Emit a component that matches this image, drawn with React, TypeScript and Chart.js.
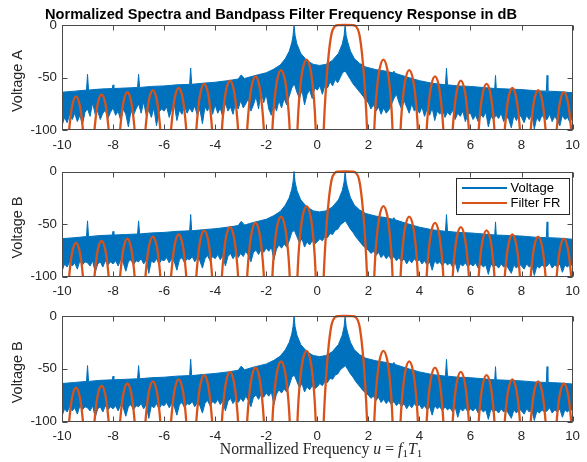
import React, { useEffect, useRef } from 'react';
import { Chart, registerables } from 'chart.js';

Chart.register(...registerables);

// ---------------- data ----------------
const xTickValues = [-10, -8, -6, -4, -2, 0, 2, 4, 6, 8, 10];
const yTickValues = [-100, -50, 0];
const seriesNames = ['Voltage', 'Filter FR'];
const panelLabels = ['Voltage A', 'Voltage B', 'Voltage B'];

// upper edge of the voltage spectrum (dB)
const voltTopU = [-10, -9.5, -9.04, -9.0, -8.96, -8.5, -8.03, -8.0, -7.97, -7.5, -7.04, -7.0, -6.96, -6.5, -6.0, -5.5, -5.0, -4.96, -4.92, -4.5, -4.0, -3.5, -3.1, -2.98, -2.85, -2.5, -2.0, -1.7, -1.45, -1.25, -1.1, -1.0, -0.95, -0.91, -0.87, -0.8, -0.65, -0.4, -0.15, 0.09, 0.33, 0.58, 0.83, 0.98, 1.05, 1.09, 1.13, 1.2, 1.3, 1.45, 1.65, 1.9, 2.3, 2.7, 2.95, 3.0, 3.05, 3.5, 4.0, 4.5, 5.02, 5.06, 5.1, 5.5, 6.0, 6.5, 6.95, 6.98, 7.01, 7.5, 8.0, 8.5, 8.97, 9.0, 9.03, 9.5, 10];
const voltTopDb = [-64, -63, -62, -47, -62, -61, -60.5, -57, -60.5, -60, -59.5, -47, -59.5, -58.5, -58, -57, -56.5, -41, -56.5, -55.5, -54.5, -53, -51.5, -47.5, -51, -48.5, -45.5, -42, -38, -32, -25, -17, -10, 0, -10, -18, -27, -34, -37.5, -38.5, -37.5, -34, -27, -18, -10, 0, -10, -17, -25, -32, -36.5, -40, -42.5, -44, -45.5, -44, -46, -49.5, -53, -55.5, -57, -41, -57, -58, -58.5, -59.5, -60.5, -48, -60.5, -61, -61.5, -62.5, -63, -48, -63, -63.5, -64.5];

// lower edge of the voltage spectrum, every 0.1 from -10 to 10 (dB)
const voltLowA = [
  -96, -88, -93, -85, -90, -84, -92, -86, -95, -83,
  -80, -87, -74, -85, -82, -90, -84, -81, -89, -83,
  -79, -86, -82, -91, -80, -85, -97, -82, -86, -80,
  -75, -84, -73, -86, -81, -88, -79, -96, -83, -80,
  -82, -78, -88, -80, -76, -91, -81, -85, -77, -84,
  -79, -83, -77, -86, -80, -94, -78, -82, -75, -85,
  -76, -84, -79, -88, -74, -82, -78, -85, -73, -80,
  -72, -79, -75, -70, -82, -76, -68, -80, -62, -74,
  -66, -80, -86, -74, -82, -72, -79, -70, -76, -68,
  -60, -56, -64, -70, -62, -76, -66, -62, -70, -60,
  -62, -58, -66, -57, -60, -54, -58, -52, -55, -50,
  -45, -44, -48, -52, -56, -59, -62, -65, -68, -72,
  -74, -80, -76, -82, -78, -85, -79, -84, -81, -76,
  -70, -66, -74, -80, -72, -78, -84, -75, -82, -79,
  -84, -78, -87, -80, -86, -79, -91, -82, -85, -80,
  -88, -83, -86, -81, -90, -84, -87, -82, -92, -85,
  -84, -90, -86, -92, -85, -88, -83, -97, -87, -90,
  -86, -89, -84, -92, -87, -90, -98, -86, -91, -85,
  -88, -93, -86, -90, -84, -99, -88, -92, -86, -89,
  -90, -85, -92, -87, -91, -96, -86, -90, -88, -93,
  -87,
];
const voltLowB = [
  -95, -88, -91, -86, -90, -87, -93, -85, -89, -86,
  -87, -90, -85, -96, -88, -86, -91, -85, -89, -86,
  -88, -85, -90, -84, -87, -95, -86, -84, -89, -85,
  -86, -83, -88, -84, -97, -85, -87, -83, -88, -84,
  -85, -82, -87, -83, -86, -94, -84, -82, -87, -83,
  -84, -81, -86, -82, -85, -92, -83, -80, -85, -81,
  -83, -79, -84, -80, -90, -81, -78, -83, -79, -82,
  -78, -81, -76, -80, -86, -77, -75, -79, -74, -77,
  -73, -76, -72, -84, -74, -70, -73, -69, -72, -66,
  -58, -56, -62, -68, -64, -72, -67, -70, -66, -69,
  -67, -64, -66, -62, -63, -59, -60, -56, -55, -51,
  -49, -47, -51, -55, -58, -62, -65, -68, -71, -73,
  -75, -78, -76, -80, -77, -82, -79, -83, -80, -84,
  -81, -85, -82, -86, -83, -88, -84, -87, -83, -86,
  -84, -88, -85, -89, -86, -94, -85, -88, -86, -90,
  -86, -89, -87, -91, -86, -96, -88, -90, -87, -91,
  -88, -90, -87, -92, -88, -91, -89, -98, -88, -91,
  -89, -92, -88, -91, -89, -93, -97, -89, -92, -88,
  -90, -93, -88, -91, -89, -99, -90, -92, -89, -91,
  -90, -87, -92, -89, -91, -88, -96, -89, -91, -88,
  -90,
];
const voltLowU = voltLowA.map((_, i) => Math.round((-10 + i * 0.1) * 10) / 10);

// bandpass filter frequency response (dB)
const filterU = [
  -10.0, -9.95,
  -9.85, -9.77, -9.70, -9.60, -9.45, -9.30, -9.20, -9.13, -9.05, -8.95,
  -8.85, -8.77, -8.70, -8.60, -8.45, -8.30, -8.20, -8.13, -8.05, -7.945,
  -7.84, -7.76, -7.69, -7.59, -7.44, -7.29, -7.19, -7.12, -7.04, -6.94,
  -6.84, -6.76, -6.69, -6.59, -6.44, -6.29, -6.19, -6.12, -6.04, -5.935,
  -5.83, -5.75, -5.68, -5.58, -5.43, -5.28, -5.18, -5.11, -5.03, -4.93,
  -4.83, -4.75, -4.68, -4.58, -4.43, -4.28, -4.18, -4.11, -4.03, -3.925,
  -3.82, -3.74, -3.67, -3.57, -3.42, -3.27, -3.17, -3.10, -3.02, -2.92,
  -2.82, -2.74, -2.67, -2.57, -2.42, -2.27, -2.17, -2.10, -2.02, -1.92,
  -1.82, -1.74, -1.67, -1.57, -1.42, -1.27, -1.17, -1.10, -1.02, -0.92,
  -0.82, -0.74, -0.67, -0.57, -0.42, -0.27, -0.17, -0.10, -0.02, 0.08,
  0.18, 0.25, 0.34, 0.45, 0.56, 0.68, 0.8, 1.1, 1.4, 1.52, 1.64, 1.75, 1.86, 1.95, 2.01, 2.09,
  2.19, 2.27, 2.34, 2.44, 2.59, 2.74, 2.84, 2.91, 2.99, 3.095,
  3.20, 3.28, 3.35, 3.45, 3.60, 3.75, 3.85, 3.92, 4.00, 4.105,
  4.21, 4.29, 4.36, 4.46, 4.61, 4.76, 4.86, 4.93, 5.01, 5.115,
  5.22, 5.30, 5.37, 5.47, 5.62, 5.77, 5.87, 5.94, 6.02, 6.125,
  6.23, 6.31, 6.38, 6.48, 6.63, 6.78, 6.88, 6.95, 7.03, 7.135,
  7.24, 7.32, 7.39, 7.49, 7.64, 7.79, 7.89, 7.96, 8.04, 8.145,
  8.25, 8.33, 8.40, 8.50, 8.65, 8.80, 8.90, 8.97, 9.05, 9.155,
  9.26, 9.34, 9.41, 9.51, 9.66, 9.81, 9.91, 9.98, 10.06, 10.165,
];
const filterDb = [
  -190, -200,
  -160, -116, -95, -77, -68, -77, -95, -116, -160, -200,
  -158, -114, -93, -75, -66, -75, -93, -114, -158, -200,
  -156, -112, -91, -73, -64, -73, -91, -112, -156, -200,
  -154, -110, -89, -71, -62, -71, -89, -110, -154, -200,
  -152, -108, -87, -69, -60, -69, -87, -108, -152, -200,
  -148, -104, -83, -65, -56, -65, -83, -104, -148, -200,
  -145, -101, -80, -62, -53, -62, -80, -101, -145, -200,
  -141, -97, -76, -58, -49, -58, -76, -97, -141, -200,
  -135, -91, -70, -52, -43, -52, -70, -91, -135, -200,
  -125, -81, -60, -42, -33, -42, -60, -81, -125, -200,
  -150, -100, -59, -27, -8, -1.5, -0.2, 0, -0.2, -1.5, -8, -27, -59, -100, -150, -200,
  -125, -81, -60, -42, -33, -42, -60, -81, -125, -200,
  -135, -91, -70, -52, -43, -52, -70, -91, -135, -200,
  -141, -97, -76, -58, -49, -58, -76, -97, -141, -200,
  -145, -101, -80, -62, -53, -62, -80, -101, -145, -200,
  -148, -104, -83, -65, -56, -65, -83, -104, -148, -200,
  -152, -108, -87, -69, -60, -69, -87, -108, -152, -200,
  -154, -110, -89, -71, -62, -71, -89, -110, -154, -200,
  -156, -112, -91, -73, -64, -73, -91, -112, -156, -200,
];

// ---------------- styling ----------------
const BLUE = '#0072BD';
const ORANGE = '#D95319';
const AXIS = '#262626';
const SANS = '"Liberation Sans", Arial, Helvetica, sans-serif';
const SERIF = '"Liberation Serif", "Times New Roman", serif';
const W = 587;
const H = 462;
const X_AXIS_H = 24;
const PLOT_LEFT = 62;
const PLOT_RIGHT = 577.5;

const panelBoxes = [
  { top: 25, bottom: 130, lowIdx: 0, legend: false },
  { top: 171.5, bottom: 276.5, lowIdx: 1, legend: true },
  { top: 316, bottom: 421.5, lowIdx: 1, legend: false },
];

const toPts = (xs: number[], ys: number[]) => xs.map((x, i) => ({ x, y: ys[i] }));

function makeAxesPlugin(label: string, legend: boolean) {
  return {
    id: 'matlabAxes',
    afterDraw(chart: any) {
      const { ctx, chartArea: a, scales } = chart;
      ctx.save();
      const L = Math.round(a.left) + 0.5;
      const R = Math.round(a.right) - 0.5;
      const T = Math.round(a.top) + 0.5;
      const B = Math.round(a.bottom) - 0.5;
      ctx.strokeStyle = '#4a4a4a';
      ctx.lineWidth = 1;
      ctx.strokeRect(L, T, R - L, B - T);
      const tl = 5;
      ctx.beginPath();
      for (const t of scales.x.ticks) {
        const px = Math.round(scales.x.getPixelForValue(t.value)) + 0.5;
        ctx.moveTo(px, B); ctx.lineTo(px, B - tl);
        ctx.moveTo(px, T); ctx.lineTo(px, T + tl);
      }
      for (const t of scales.y.ticks) {
        const py = Math.round(scales.y.getPixelForValue(t.value)) + 0.5;
        ctx.moveTo(L, py); ctx.lineTo(L + tl, py);
        ctx.moveTo(R, py); ctx.lineTo(R - tl, py);
      }
      ctx.stroke();

      // y axis label
      ctx.fillStyle = AXIS;
      ctx.font = `14.5px ${SANS}`;
      ctx.textAlign = 'center';
      ctx.textBaseline = 'middle';
      ctx.translate(17.5, (a.top + a.bottom) / 2 + 3.5);
      ctx.rotate(-Math.PI / 2);
      ctx.fillText(label, 0, 0);
      ctx.setTransform(1, 0, 0, 1, 0, 0);

      if (legend) {
        const lx = 456.5, ly = 178.5, lw = 113, lh = 36;
        ctx.fillStyle = '#ffffff';
        ctx.fillRect(lx, ly, lw, lh);
        ctx.strokeStyle = AXIS;
        ctx.lineWidth = 1;
        ctx.strokeRect(lx, ly, lw, lh);
        const colors = [BLUE, ORANGE];
        seriesNames.forEach((name, i) => {
          const y = 188 + i * 15;
          ctx.strokeStyle = colors[i];
          ctx.lineWidth = 2;
          ctx.beginPath();
          ctx.moveTo(462, y);
          ctx.lineTo(507, y);
          ctx.stroke();
          ctx.fillStyle = '#000';
          ctx.font = `13px ${SANS}`;
          ctx.textAlign = 'left';
          ctx.textBaseline = 'middle';
          ctx.fillText(name, 510.5, y + 0.5);
        });
      }
      ctx.restore();
    },
  };
}

function Panel({ index }: { index: number }) {
  const ref = useRef<HTMLCanvasElement | null>(null);
  useEffect(() => {
    const box = panelBoxes[index];
    const low = box.lowIdx === 0 ? voltLowA : voltLowB;
    const clip = { left: 0, right: 0, top: 3, bottom: 0 };
    const chart = new Chart(ref.current as HTMLCanvasElement, {
      type: 'line',
      data: {
        datasets: [
          {
            label: seriesNames[1],
            data: toPts(filterU, filterDb),
            borderColor: ORANGE,
            borderWidth: 2.3,
            pointRadius: 0,
            fill: false,
            cubicInterpolationMode: 'monotone',
            clip,
          } as any,
          {
            label: seriesNames[0],
            data: toPts(voltTopU, voltTopDb),
            borderColor: BLUE,
            borderWidth: 1,
            pointRadius: 0,
            fill: false,
            tension: 0,
            clip,
          } as any,
          {
            label: seriesNames[0] + ' low',
            data: toPts(voltLowU, low),
            borderColor: BLUE,
            backgroundColor: BLUE,
            borderWidth: 1,
            pointRadius: 0,
            fill: '-1',
            tension: 0,
            clip,
          } as any,
        ],
      },
      options: {
        responsive: false,
        animation: false,
        events: [],
        layout: {
          padding: {
            left: 0,
            right: W - PLOT_RIGHT,
            top: box.top,
            bottom: H - X_AXIS_H - box.bottom,
          },
        },
        scales: {
          x: {
            type: 'linear',
            min: -10,
            max: 10,
            afterBuildTicks: (s: any) => { s.ticks = xTickValues.map((v) => ({ value: v })); },
            afterFit: (s: any) => { s.height = X_AXIS_H; },
            ticks: { color: AXIS, font: { family: SANS, size: 13.3 }, padding: 7, maxRotation: 0, autoSkip: false },
            grid: { display: false, drawTicks: false },
            border: { display: false },
          },
          y: {
            type: 'linear',
            min: -100,
            max: 0,
            afterBuildTicks: (s: any) => { s.ticks = yTickValues.map((v) => ({ value: v })); },
            afterFit: (s: any) => { s.width = PLOT_LEFT; },
            ticks: { color: AXIS, font: { family: SANS, size: 13.3 }, padding: 5 },
            grid: { display: false, drawTicks: false },
            border: { display: false },
          },
        },
        plugins: {
          legend: { display: false },
          tooltip: { enabled: false },
          title: { display: false },
        },
      } as any,
      plugins: [makeAxesPlugin(panelLabels[index], box.legend)],
    });
    return () => chart.destroy();
  }, [index]);
  return (
    <canvas
      ref={ref}
      width={W}
      height={H}
      style={{ position: 'absolute', left: 0, top: 0, width: W, height: H }}
    />
  );
}

export default function App() {
  return (
    <div style={{ position: 'fixed', left: 0, top: 0, width: W, height: H, background: '#fff', overflow: 'hidden' }}>
      <Panel index={0} />
      <Panel index={1} />
      <Panel index={2} />
      <div
        style={{
          position: 'absolute', left: 0, top: 6.5, width: 562, textAlign: 'center',
          font: `bold 14.6px ${SANS}`, lineHeight: '14.6px', color: '#000', whiteSpace: 'nowrap',
        }}
      >
        Normalized Spectra and Bandpass Filter Frequency Response in dB
      </div>
      <div
        style={{
          position: 'absolute', left: 0, top: 441, width: 642, textAlign: 'center',
          font: `15.8px ${SERIF}`, lineHeight: '15.8px', color: '#262626', whiteSpace: 'nowrap',
        }}
      >
        Normallized Frequency <i>u</i> = <i>f</i>
        <span style={{ fontSize: 11, position: 'relative', top: 3 }}>1</span>
        <i>T</i>
        <span style={{ fontSize: 11, position: 'relative', top: 3 }}>1</span>
      </div>
    </div>
  );
}
